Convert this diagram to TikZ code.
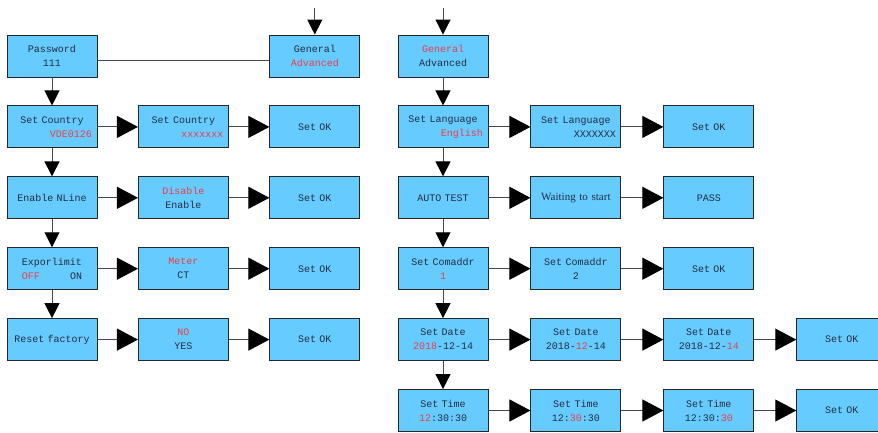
\documentclass[tikz,border=0pt]{standalone}
\usepackage{fontspec}
\setmonofont{Liberation Mono}
\newfontfamily\waitfont{Liberation Serif}
\usetikzlibrary{arrows.meta,positioning}
\definecolor{menublue}{RGB}{102,204,255}
\definecolor{menutext}{RGB}{35,45,65}
\definecolor{menured}{RGB}{238,60,70}
\definecolor{menuline}{RGB}{70,70,70}
\newcommand{\sel}[1]{\textcolor{menured}{#1}}
\tikzset{
  menubox/.style={
    rectangle,
    draw=black!85,
    line width=0.9pt,
    fill=menublue,
    text=menutext,
    align=center,
    text width=80pt,
    minimum width=90pt,
    minimum height=42pt,
    inner xsep=5pt,
    inner ysep=2pt,
    font=\ttfamily\fontsize{10}{14}\selectfont
  },
  steparrow/.style={
    -{Triangle[length=21pt,width=22pt,color=black]},
    line width=1pt,
    draw=menuline
  },
  downarrow/.style={
    -{Triangle[length=15pt,width=15pt,color=black]},
    line width=1pt,
    draw=menuline
  }
}

\begin{document}
\begin{tikzpicture}[x=1pt,y=-1pt,node distance=28pt and 42pt]
\useasboundingbox (0,0) rectangle (878,432);
% password branch
\begin{scope}[node distance=28pt and 40.5pt]
\node[menubox] (pwd) at (52,56) {Password\\111};
\node[menubox, below=of pwd] (country) {Set Country\\\hspace*{\fill}\sel{VDE0126}};
\node[menubox, right=of country] (countryb) {Set Country\\\hspace*{\fill}\sel{xxxxxxx}};
\node[menubox, right=of countryb] (countryok) {Set OK};
\node[menubox, above=of countryok] (genl) {General\\\sel{Advanced}};
\node[menubox, below=of country] (nline) {Enable NLine};
\node[menubox, right=of nline] (nlineb) {\sel{Disable}\\Enable};
\node[menubox, right=of nlineb] (nlineok) {Set OK};
\node[menubox, below=of nline] (export) {Exporlimit\\\sel{OFF}\hspace{30pt}ON};
\node[menubox, right=of export] (exportb) {\sel{Meter}\\CT};
\node[menubox, right=of exportb] (exportok) {Set OK};
\node[menubox, below=of export] (reset) {Reset factory};
\node[menubox, right=of reset] (resetb) {\sel{NO}\\YES};
\node[menubox, right=of resetb] (resetok) {Set OK};
\coordinate[above=27pt of genl] (inl);
\end{scope}

% general branch
\node[menubox] (genr) at (443,56) {\sel{General}\\Advanced};
\node[menubox, below=of genr] (lang) {Set Language\\\hspace*{\fill}\sel{English}};
\node[menubox, right=of lang] (langb) {Set Language\\\hspace*{\fill}XXXXXXX};
\node[menubox, right=of langb] (langok) {Set OK};
\node[menubox, below=of lang] (auto) {AUTO TEST};
\node[menubox, right=of auto, font=\waitfont\fontsize{11}{14}\selectfont] (wait) {Waiting to start};
\node[menubox, right=of wait] (pass) {PASS};
\node[menubox, below=of auto] (addr) {Set Comaddr\\\sel{1}};
\node[menubox, right=of addr] (addrb) {Set Comaddr\\2};
\node[menubox, right=of addrb] (addrok) {Set OK};
\node[menubox, below=of addr] (date) {Set Date\\\sel{2018}-12-14};
\node[menubox, right=of date] (dateb) {Set Date\\2018-\sel{12}-14};
\node[menubox, right=of dateb] (datec) {Set Date\\2018-12-\sel{14}};
\node[menubox, right=of datec] (dateok) {Set OK};
\node[menubox, below=of date] (time) {Set Time\\\sel{12}:30:30};
\node[menubox, right=of time] (timeb) {Set Time\\12:\sel{30}:30};
\node[menubox, right=of timeb] (timec) {Set Time\\12:30:\sel{30}};
\node[menubox, right=of timec] (timeok) {Set OK};
\coordinate[above=27pt of genr] (inr);

\draw[downarrow] (inl) -- (genl);
\draw[menuline, line width=1pt] ([yshift=-4pt]pwd.east) -- ([yshift=-4pt]genl.west);
\draw[downarrow] (pwd) -- (country);
\draw[downarrow] (country) -- (nline);
\draw[downarrow] (nline) -- (export);
\draw[downarrow] (export) -- (reset);
\draw[steparrow] (country) -- (countryb);
\draw[steparrow] (countryb) -- (countryok);
\draw[steparrow] (nline) -- (nlineb);
\draw[steparrow] (nlineb) -- (nlineok);
\draw[steparrow] (export) -- (exportb);
\draw[steparrow] (exportb) -- (exportok);
\draw[steparrow] (reset) -- (resetb);
\draw[steparrow] (resetb) -- (resetok);

\draw[downarrow] (inr) -- (genr);
\draw[downarrow] (genr) -- (lang);
\draw[downarrow] (lang) -- (auto);
\draw[downarrow] (auto) -- (addr);
\draw[downarrow] (addr) -- (date);
\draw[downarrow] (date) -- (time);
\draw[steparrow] (lang) -- (langb);
\draw[steparrow] (langb) -- (langok);
\draw[steparrow] (auto) -- (wait);
\draw[steparrow] (wait) -- (pass);
\draw[steparrow] (addr) -- (addrb);
\draw[steparrow] (addrb) -- (addrok);
\draw[steparrow] (date) -- (dateb);
\draw[steparrow] (dateb) -- (datec);
\draw[steparrow] (datec) -- (dateok);
\draw[steparrow] (time) -- (timeb);
\draw[steparrow] (timeb) -- (timec);
\draw[steparrow] (timec) -- (timeok);
\end{tikzpicture}
\end{document}
